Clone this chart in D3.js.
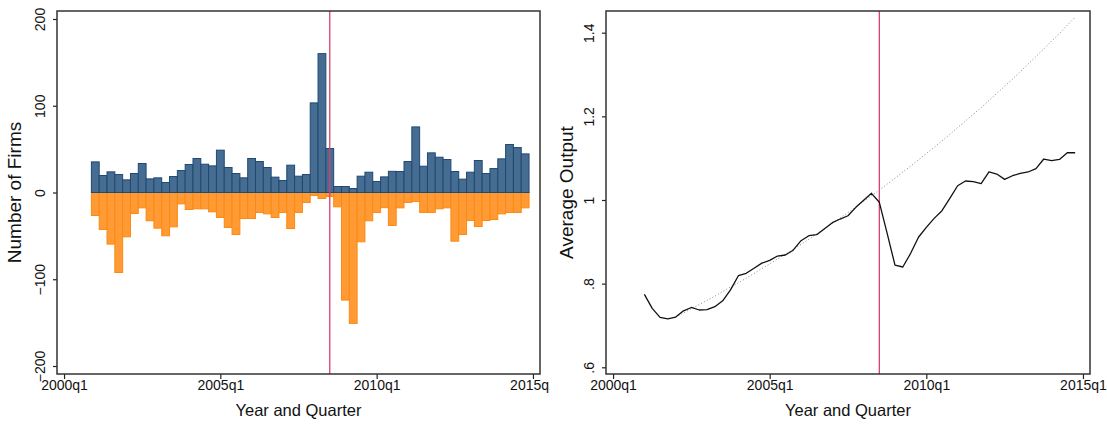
<!DOCTYPE html>
<html><head><meta charset="utf-8">
<script src="https://cdn.jsdelivr.net/npm/d3@7"></script>
<style>
body{margin:0;background:#fff;}
svg{display:block;font-family:"Liberation Sans",Arial,Helvetica,sans-serif;}
</style></head>
<body>
<svg id="chart" width="1107" height="424"></svg>
<script>
// ---- Data (quarter index: 0 = 2000q1) ----
const quarters = ["2001q1","2001q2","2001q3","2001q4","2002q1","2002q2","2002q3","2002q4",
"2003q1","2003q2","2003q3","2003q4","2004q1","2004q2","2004q3","2004q4",
"2005q1","2005q2","2005q3","2005q4","2006q1","2006q2","2006q3","2006q4",
"2007q1","2007q2","2007q3","2007q4","2008q1","2008q2","2008q3","2008q4",
"2009q1","2009q2","2009q3","2009q4","2010q1","2010q2","2010q3","2010q4",
"2011q1","2011q2","2011q3","2011q4","2012q1","2012q2","2012q3","2012q4",
"2013q1","2013q2","2013q3","2013q4","2014q1","2014q2","2014q3","2014q4"];
const entries = [35.3,19.6,23.8,20.7,14.6,21.9,33.4,15.7,16.9,11.5,
18.4,25.3,32.3,39.2,32.6,30.7,48.8,28.8,21.9,16.9,
39.2,35.7,28.8,17.7,13.8,31.5,18.8,20.7,103.3,160.1,
50.7,6.9,6.9,4.6,18.8,23.4,12.7,18.0,24.4,24.2,
35.7,75.6,30.3,45.7,40.7,38.0,24.2,15.4,23.4,36.9,
21.9,27.6,38.8,55.3,51.8,44.5];
const exits = [-26.5,-42.6,-59.5,-92.2,-51.1,-24.2,-17.7,-32.6,-41.1,-49.9,
-39.6,-13.1,-19.6,-18.8,-18.8,-22.3,-28.8,-40.3,-48.4,-30.0,
-30.0,-23.0,-24.6,-28.8,-23.0,-41.5,-23.0,-11.5,-3.5,-6.9,
-4.6,-16.5,-124.0,-150.9,-56.8,-32.6,-23.0,-17.5,-38.0,-17.7,
-11.5,-10.4,-23.0,-23.0,-18.8,-17.7,-56.1,-48.4,-32.3,-39.2,
-32.3,-31.1,-24.6,-23.0,-23.0,-17.7];
const avgOutput = [0.7745,0.741,0.7195,0.716,0.720,0.735,0.743,0.737,0.738,0.745,
0.759,0.785,0.819,0.8247,0.837,0.849,0.8555,0.866,0.8685,0.880,
0.9027,0.9147,0.917,0.9314,0.9457,0.9545,0.9624,0.9825,0.9992,1.016,
0.9945,0.920,0.8442,0.8398,0.8725,0.911,0.9347,0.956,0.9745,1.004,
1.034,1.0454,1.0437,1.039,1.067,1.062,1.0494,1.058,1.0637,1.067,
1.0748,1.098,1.094,1.097,1.113,1.113];
const trendQuarters = quarters.slice(4); // from 2002q1
const trendOutput = [0.720,0.730,0.740,0.750,0.760,0.770,0.781,0.792,0.802,0.813,
0.824,0.836,0.847,0.859,0.870,0.882,0.894,0.906,0.919,0.931,
0.944,0.957,0.970,0.983,0.997,1.010,1.024,1.038,1.052,1.067,
1.081,1.096,1.111,1.126,1.141,1.157,1.173,1.189,1.205,1.221,
1.238,1.255,1.272,1.289,1.307,1.325,1.343,1.361,1.380,1.398,
1.418,1.437];
const breakQuarter = "2008q3";
const xTicks = ["2000q1","2005q1","2010q1","2015q1"];
const yTicksFirms = [-200,-100,0,100,200];
const yTicksOutput = [0.6,0.8,1.0,1.2,1.4];

function qIndex(q){ const y=+q.slice(0,4), k=+q.slice(5); return (y-2000)*4 + (k-1); }

const svg = d3.select("#chart");
const fmtFirms = d => d<0 ? "\u2212"+Math.abs(d) : String(d);
const fmtOut = d => { let s = d3.format("~g")(+d.toFixed(1)); return s.replace(/^0\./,"."); };

function frameAndAxes(g, x, y, box, yTicks, yFmt, yTitle, yTitleX){
  const xa = g.append("g").attr("transform",`translate(0,${box.bottom})`)
    .call(d3.axisBottom(x).tickValues(xTicks.map(qIndex)).tickFormat((d,i)=>xTicks[i]).tickSize(5).tickSizeOuter(0));
  xa.select(".domain").remove();
  xa.selectAll("line").attr("stroke","#222").attr("stroke-width",1.2);
  xa.selectAll("text").attr("font-size",14).attr("fill","#111").attr("dy","0.55em");
  const ya = g.append("g").attr("transform",`translate(${box.left},0)`)
    .call(d3.axisLeft(y).tickValues(yTicks).tickFormat(yFmt).tickSize(4).tickSizeOuter(0));
  ya.select(".domain").remove();
  ya.selectAll("line").attr("stroke","#222").attr("stroke-width",1.2);
  ya.selectAll("text").attr("font-size",14).attr("fill","#111")
    .attr("text-anchor","middle").attr("x",0).attr("dy",0)
    .attr("transform","translate(-12,0) rotate(-90)");
  g.append("rect").attr("x",box.left).attr("y",box.top)
    .attr("width",box.right-box.left).attr("height",box.bottom-box.top)
    .attr("fill","none").attr("stroke","#333").attr("stroke-width",1.5);
  g.append("text").attr("x",(box.left+box.right)/2).attr("y",416)
    .attr("text-anchor","middle").attr("font-size",16.5).attr("fill","#111").text("Year and Quarter");
  g.append("text").attr("transform",`translate(${yTitleX},${(box.top+box.bottom)/2}) rotate(-90)`)
    .attr("text-anchor","middle").attr("font-size",19).attr("fill","#111").text(yTitle);
}

// ---------- Left panel ----------
svg.append("defs").append("clipPath").attr("id","leftClip")
  .append("rect").attr("x",0).attr("y",0).attr("width",550).attr("height",424);
const gL = svg.append("g").attr("clip-path","url(#leftClip)");
const boxL = {left:57, right:540, top:11, bottom:374};
const xL = d3.scaleLinear().domain([-0.9,60.9]).range([boxL.left, boxL.right]);
const yL = d3.scaleLinear().domain([-200,200]).range([366,19]);

gL.selectAll("rect.exit").data(exits).join("rect").attr("class","exit")
  .attr("x",(d,i)=>xL(qIndex(quarters[i])-0.5))
  .attr("width",(d,i)=>xL(qIndex(quarters[i])+0.5)-xL(qIndex(quarters[i])-0.5))
  .attr("y",yL(0)).attr("height",d=>yL(d)-yL(0))
  .attr("fill","#ff9a35").attr("stroke","#fb8a12").attr("stroke-width",1);
gL.selectAll("rect.entry").data(entries).join("rect").attr("class","entry")
  .attr("x",(d,i)=>xL(qIndex(quarters[i])-0.5))
  .attr("width",(d,i)=>xL(qIndex(quarters[i])+0.5)-xL(qIndex(quarters[i])-0.5))
  .attr("y",d=>yL(d)).attr("height",d=>yL(0)-yL(d))
  .attr("fill","#466c92").attr("stroke","#1e4a73").attr("stroke-width",1);
gL.append("line").attr("x1",xL(qIndex(breakQuarter))).attr("x2",xL(qIndex(breakQuarter)))
  .attr("y1",boxL.top).attr("y2",boxL.bottom).attr("stroke","#d6416f").attr("stroke-width",1.3);
frameAndAxes(gL, xL, yL, boxL, yTicksFirms, fmtFirms, "Number of Firms", 21);

// ---------- Right panel ----------
const gR = svg.append("g");
const boxR = {left:606, right:1090, top:11, bottom:374};
const xR = d3.scaleLinear().domain([-0.9,60.9]).range([boxR.left, boxR.right]);
const yR = d3.scaleLinear().domain([0.6,1.4]).range([367.3,32.7]);

gR.append("path").datum(trendOutput)
  .attr("d", d3.line().x((d,i)=>xR(qIndex(trendQuarters[i]))).y(d=>yR(d)))
  .attr("fill","none").attr("stroke","#888").attr("stroke-width",1).attr("stroke-dasharray","1,2.2");
gR.append("line").attr("x1",xR(qIndex(breakQuarter))).attr("x2",xR(qIndex(breakQuarter)))
  .attr("y1",boxR.top).attr("y2",boxR.bottom).attr("stroke","#d6416f").attr("stroke-width",1.3);
gR.append("path").datum(avgOutput)
  .attr("d", d3.line().x((d,i)=>xR(qIndex(quarters[i]))).y(d=>yR(d)))
  .attr("fill","none").attr("stroke","#111").attr("stroke-width",1.3).attr("stroke-linejoin","round");
frameAndAxes(gR, xR, yR, boxR, yTicksOutput, fmtOut, "Average Output", 573);
</script>
</body></html>
